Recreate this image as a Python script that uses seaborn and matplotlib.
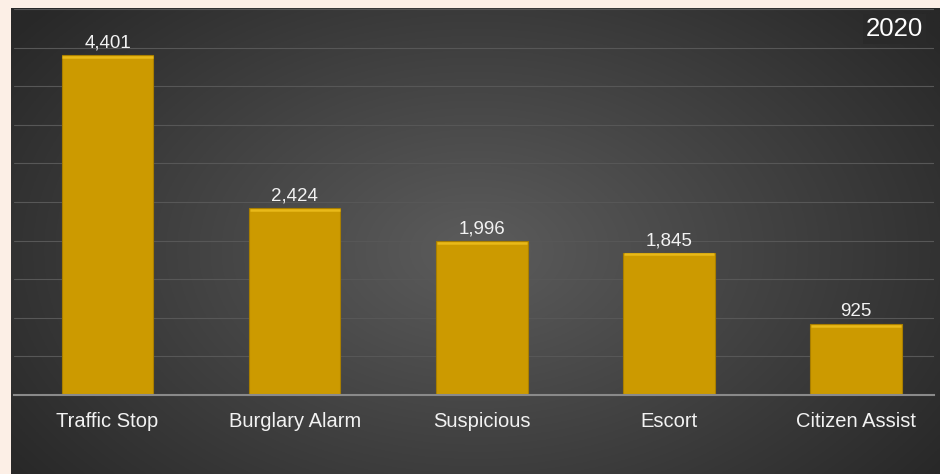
import numpy as np
import pandas as pd
import matplotlib
matplotlib.use("Agg")
import matplotlib.pyplot as plt
import seaborn as sns

categories = ["Traffic Stop", "Burglary Alarm", "Suspicious", "Escort", "Citizen Assist"]
values = [4401, 2424, 1996, 1845, 925]
year_label = "2020"

sns.set_theme(style="dark")
plt.rcParams['font.family'] = ['Liberation Sans', 'DejaVu Sans']

W, H = 940, 474
fig = plt.figure(figsize=(W / 100, H / 100), dpi=100, facecolor="#FCEFE6")

# background panel with radial gradient
bg = fig.add_axes([11 / W, 0, 1 - 11 / W, (H - 8) / H])
ny, nx = 300, 600
yy, xx = np.mgrid[0:ny, 0:nx]
cx, cy = nx * 0.5, ny * 0.52
r = np.sqrt(((xx - cx) / (nx * 0.62)) ** 2 + ((yy - cy) / (ny * 0.8)) ** 2)
r = np.clip(r, 0, 1)
inner = np.array([0x5c, 0x5c, 0x5c]) / 255
outer = np.array([0x28, 0x28, 0x28]) / 255
img = inner[None, None, :] * (1 - r[..., None]) + outer[None, None, :] * r[..., None]
bg.imshow(img, aspect="auto", extent=[0, 1, 0, 1], origin="upper")
bg.set_axis_off()

df = pd.DataFrame({"category": categories, "value": values})

ax = fig.add_axes([14 / W, (H - 395) / H, 920 / W, 386 / H])
ax.set_facecolor("none")
sns.barplot(data=df, x="category", y="value", color="#CC9A00", saturation=1,
            width=0.49, edgecolor="#A87E00", linewidth=0.8, ax=ax, zorder=3)

ax.set_ylim(0, 5000)
ax.set_xlim(-0.5, 4.417)
ax.set_yticks(np.arange(0, 5001, 500))
ax.yaxis.grid(True, color="#575757", linewidth=0.8, zorder=0)
ax.xaxis.grid(False)
ax.set_yticklabels([])
ax.tick_params(axis="y", length=0)
ax.tick_params(axis="x", length=0, pad=12.5, labelsize=14.5, labelcolor="#F2F2F2")
ax.set_xlabel("")
ax.set_ylabel("")
for s in ["top", "right", "left"]:
    ax.spines[s].set_visible(False)
ax.spines["bottom"].set_color("#8a8a8a")
ax.spines["bottom"].set_linewidth(1.5)
ax.spines["bottom"].set_zorder(4)

# bevel highlight on bar tops and value labels
for p, v in zip(ax.patches, values):
    x0 = p.get_x()
    w = p.get_width()
    top = p.get_height()
    ax.plot([x0 + 0.004, x0 + w - 0.004], [top - 25, top - 25], color="#E9B919",
            linewidth=1.8, zorder=4, solid_capstyle="butt")
    ax.annotate(f"{v:,}", (x0 + w / 2, top), xytext=(0, 2.5), textcoords="offset points",
                ha="center", va="bottom", color="#F2F2F2", fontsize=13.5)

fig.text(923 / W, (H - 29) / H, year_label, ha="right", va="center", color="#FFFFFF",
         fontsize=18.5, bbox=dict(facecolor="#2a2a2a", edgecolor="none", pad=2))

fig.savefig("out.png", dpi=100, facecolor=fig.get_facecolor())
